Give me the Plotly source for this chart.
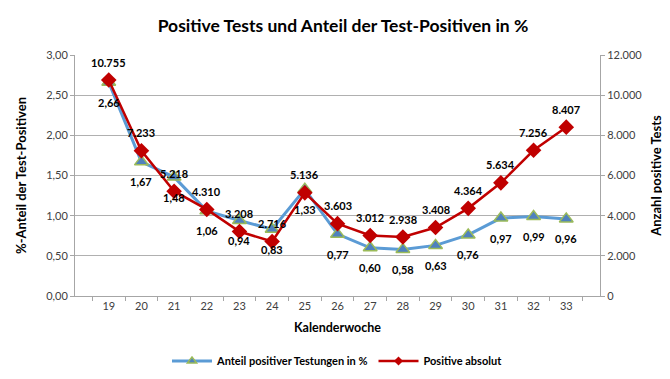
import plotly.graph_objects as go

weeks = ["19", "20", "21", "22", "23", "24", "25", "26", "27", "28", "29", "30", "31", "32", "33"]
anteil = [2.66, 1.67, 1.48, 1.06, 0.94, 0.83, 1.33, 0.77, 0.60, 0.58, 0.63, 0.76, 0.97, 0.99, 0.96]
absolut = [10755, 7233, 5218, 4310, 3208, 2716, 5136, 3603, 3012, 2938, 3408, 4364, 5634, 7256, 8407]
names = ["Anteil positiver Testungen in %", "Positive absolut"]

FONT = "Lato"
LABEL_FONT = dict(family=FONT, size=11, color="black", weight="bold")

blue_line = dict(color="#5B9BD5", width=3)
red_line = dict(color="#C00000", width=2.5)
blue_marker = dict(symbol="triangle-up", color="#4F81BD", line=dict(color="#9BBB59", width=1.5))
red_marker = dict(symbol="diamond", color="#C00000")

fig = go.Figure()
fig.add_trace(go.Scatter(
    x=weeks, y=anteil, name=names[0], showlegend=False,
    mode="lines+markers", line=blue_line, marker=dict(size=12, **blue_marker), yaxis="y",
))
fig.add_trace(go.Scatter(
    x=weeks, y=absolut, name=names[1], showlegend=False,
    mode="lines+markers", line=red_line, marker=dict(size=12, **red_marker), yaxis="y2",
))
# legend entries with smaller symbols
fig.add_trace(go.Scatter(x=[None], y=[None], name=names[0], mode="lines+markers",
                         line=blue_line, marker=dict(size=8, **blue_marker)))
fig.add_trace(go.Scatter(x=[None], y=[None], name=names[1], mode="lines+markers",
                         line=red_line, marker=dict(size=7, **red_marker)))

annotations = []
# category axis: annotation x given as category index
for i, a in enumerate(anteil):
    annotations.append(dict(x=i, y=a, xref="x", yref="y", text=f"{a:.2f}".replace(".", ","),
                            showarrow=False, yshift=-20, font=LABEL_FONT))
for i, v in enumerate(absolut):
    annotations.append(dict(x=i, y=v, xref="x", yref="y2", text=f"{v:,}".replace(",", "."),
                            showarrow=False, yshift=18, font=LABEL_FONT))

fig.update_layout(
    width=670, height=379,
    separators=",.",
    paper_bgcolor="white", plot_bgcolor="white",
    font=dict(family=FONT, size=11, color="#404040"),
    margin=dict(l=67, r=78, t=47, b=86),
    annotations=annotations,
    title=dict(text="Positive Tests und Anteil der Test-Positiven in %",
               x=0.5, xanchor="center", y=0.952, yanchor="middle",
               font=dict(family=FONT, size=17.5, color="black", weight="bold")),
    xaxis=dict(type="category", categoryarray=weeks, categoryorder="array",
               showgrid=False, showline=True, linecolor="#A6A6A6",
               ticks="outside", tickson="boundaries", ticklen=4, tickcolor="#A6A6A6",
               tickangle=0,
               title=dict(text="Kalenderwoche", standoff=12,
                          font=dict(family=FONT, size=12.5, color="black", weight="bold")),
               tickfont=dict(size=11, color="#404040")),
    yaxis=dict(range=[0, 3], dtick=0.5, tickformat=".2f", showgrid=True, gridcolor="#B0B0B0",
               showline=True, linecolor="#A6A6A6", ticks="outside", ticklen=4, tickcolor="#A6A6A6",
               zeroline=False,
               title=dict(text="%-Anteil der Test-Positiven", standoff=16,
                          font=dict(family=FONT, size=13, color="black", weight="bold"))),
    yaxis2=dict(range=[0, 12000], dtick=2000, tickformat=",d", overlaying="y", side="right",
                showgrid=False, showline=True, linecolor="#A6A6A6", ticks="outside", ticklen=4,
                tickcolor="#A6A6A6", zeroline=False,
                title=dict(text="Anzahl positive Tests", standoff=10,
                           font=dict(family=FONT, size=13, color="black", weight="bold"))),
    legend=dict(orientation="h", x=0.5, xanchor="center", y=-0.27, yanchor="middle",
                font=dict(family=FONT, size=11, color="black", weight="bold"),
                itemwidth=40, traceorder="normal"),
    showlegend=True,
)

fig.write_html("out.html")
